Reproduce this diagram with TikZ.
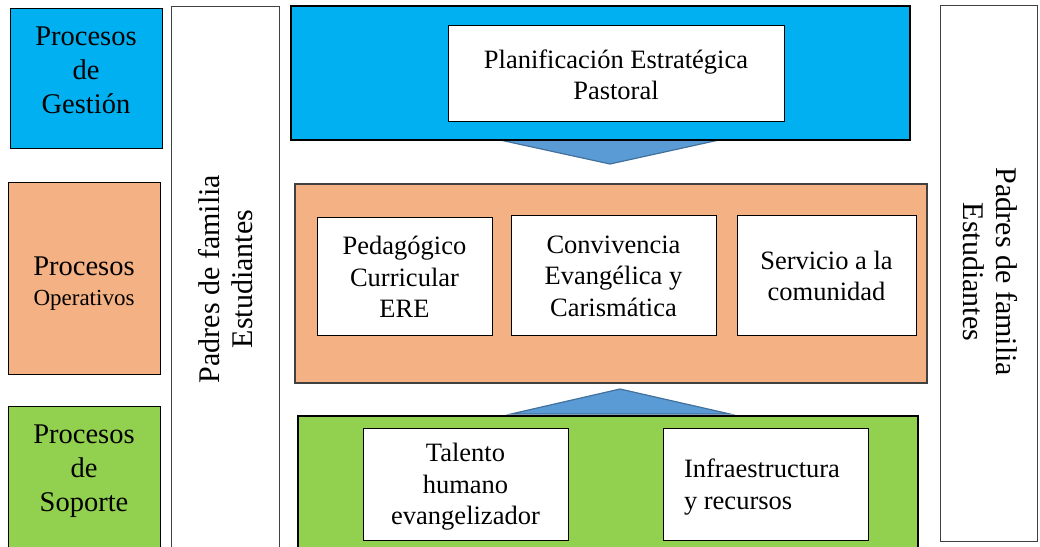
\documentclass[tikz,border=0pt]{standalone}
\usepackage{fontspec}
\setmainfont{Liberation Serif}
\definecolor{gblue}{HTML}{00B0F0}
\definecolor{gorange}{HTML}{F4B183}
\definecolor{ggreen}{HTML}{92D050}
\definecolor{arrowfill}{HTML}{5B9BD5}
\definecolor{arrowline}{HTML}{41719C}
\definecolor{darkgray}{HTML}{404040}
\newcommand{\lblfont}{\fontsize{28.5}{34}\selectfont}
\newcommand{\txtfont}{\fontsize{26.5}{31.5}\selectfont}
\newcommand{\rotfont}{\fontsize{30}{33}\selectfont}
\begin{document}
\begin{tikzpicture}[x=1pt,y=-1pt,
  box/.style={inner sep=0pt, outer sep=0pt, anchor=north west},
  label box/.style={box, draw=black, line width=1pt},
  side box/.style={box, draw=darkgray, line width=0.9pt, fill=white},
  thick panel/.style={box, draw=black, line width=2.6pt},
  thin panel/.style={box, draw=darkgray, line width=1.3pt, fill=gorange},
  inner box/.style={box, draw=black, line width=0.9pt, fill=white},
  txt/.style={align=center, inner sep=0pt, font=\txtfont},
  lbl/.style={align=center, inner sep=0pt, font=\lblfont},
  chevron/.style={fill=arrowfill, draw=arrowline, line width=1.2pt, line join=miter}
]
\useasboundingbox (0,0) rectangle (1040,546);

% left label boxes
\node[label box, fill=gblue, minimum width=152pt, minimum height=140pt] (gest) at (10,8) {};
\node[label box, fill=gorange, minimum width=152pt, minimum height=192pt] (oper) at (8,182) {};
\node[label box, fill=ggreen, minimum width=152pt, minimum height=160pt] (sop) at (8,406) {};

\node[lbl] (gestt) at (86,70) {Procesos\\de\\Gestión};
\node[lbl, anchor=base] (opert1) at (84,275) {Procesos};
\node[inner sep=0pt, font=\fontsize{23}{27}\selectfont, anchor=base] (opert2) at (84,305) {Operativos};
\node[lbl] (sopt) at (84,471) {Procesos\\de\\Soporte};

% side boxes
\node[side box, minimum width=108pt, minimum height=560pt] (lside) at (171,6) {};
\node[side box, minimum width=97pt, minimum height=536pt] (rside) at (940,5) {};
\node[align=center, inner sep=0pt, font=\rotfont, rotate=90] (lsidet) at (226,279) {Padres de familia\\Estudiantes};
\node[align=center, inner sep=0pt, font=\rotfont, rotate=-90] (rsidet) at (990,272) {Padres de familia\\Estudiantes};

% chevrons
\coordinate (dA) at (500,140);
\coordinate (dB) at (719,140);
\coordinate (dC) at (610,164);
\draw[chevron] (dA) -- (dB) -- (dC) -- cycle;
\coordinate (uA) at (511,414);
\coordinate (uB) at (730,414);
\coordinate (uC) at (620,389);
\draw[chevron] (uA) -- (uB) -- (uC) -- cycle;

% blue panel
\node[thick panel, fill=gblue, minimum width=619pt, minimum height=134pt] (bluep) at (291,6) {};
\node[inner box, minimum width=336pt, minimum height=96pt] (plan) at (448,25) {};
\node[txt] (plant) at (616,75) {Planificación Estratégica\\Pastoral};

% orange panel
\node[thin panel, minimum width=632pt, minimum height=199pt] (orp) at (295,184) {};
\node[inner box, minimum width=175pt, minimum height=118pt] (ped) at (317,217) {};
\node[inner box, minimum width=205pt, minimum height=120pt] (conv) at (511,215) {};
\node[inner box, minimum width=179pt, minimum height=120pt] (serv) at (737,215) {};
\node[txt] (pedt) at (404.5,277) {Pedagógico\\Curricular\\ERE};
\node[txt] (convt) at (613.5,276) {Convivencia\\Evangélica y\\Carismática};
\node[txt] (servt) at (826.5,276) {Servicio a la\\comunidad};

% green panel
\node[thick panel, fill=ggreen, minimum width=620pt, minimum height=150pt] (grp) at (298,416) {};
\node[inner box, minimum width=205pt, minimum height=112pt] (tal) at (363,428) {};
\node[inner box, minimum width=205pt, minimum height=112pt] (inf) at (663,428) {};
\node[txt] (talt) at (465.5,487) {Talento\\humano\\evangelizador};
\node[txt, align=left] (inft) at (762,487) {Infraestructura\\y recursos};
\end{tikzpicture}
\end{document}
